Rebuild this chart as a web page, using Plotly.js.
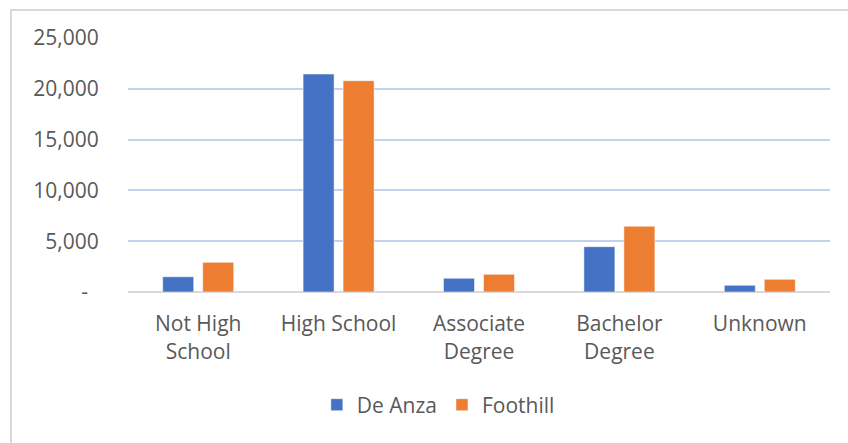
<!DOCTYPE html>
<html>
<head>
<meta charset="utf-8">
<script src="https://cdn.plot.ly/plotly-3.0.1.min.js"></script>
<style>
  html, body { margin: 0; padding: 0; background: #ffffff; overflow: hidden; }
  #frame { position: absolute; left: 10px; top: 9px; width: 900px; height: 500px;
           border-left: 2px solid #d9d9d9; border-top: 2px solid #d9d9d9; }
  #chart { position: absolute; left: 0; top: 0; width: 848px; height: 443px; }
</style>
</head>
<body>
<div id="frame"></div>
<div id="chart"></div>
<script>
const categories = ["Not High<br>School", "High School", "Associate<br>Degree", "Bachelor<br>Degree", "Unknown"];
const deAnza   = [1500, 21450, 1350, 4460, 660];
const foothill = [2920, 20800, 1740, 6470, 1250];
const yTickVals = [0, 5000, 10000, 15000, 20000, 25000];
const yTickText = ["-\u00a0\u00a0", "5,000", "10,000", "15,000", "20,000", "25,000"];

const font = "'Open Sans', 'Noto Sans', sans-serif";
const txtColor = "#595959";
const fs = 21;

const traces = [
  { type: "bar", name: "De Anza", x: categories, y: deAnza,
    marker: { color: "#4472C4", line: { color: "rgba(255,255,255,0.5)", width: 1 } } },
  { type: "bar", name: "Foothill", x: categories, y: foothill,
    marker: { color: "#ED7D31", line: { color: "rgba(255,255,255,0.5)", width: 1 } } }
];

const layout = {
  width: 848, height: 443,
  margin: { l: 128, r: 18, t: 38, b: 151 },
  paper_bgcolor: "rgba(0,0,0,0)",
  plot_bgcolor: "rgba(0,0,0,0)",
  barmode: "group",
  bargap: 0.43,
  bargroupgap: 0.225,
  font: { family: font, size: fs, color: txtColor },
  showlegend: true,
  legend: {
    orientation: "h", x: 0.269, xanchor: "left", y: -0.445, yanchor: "middle",
    font: { family: font, size: fs, color: txtColor },
    itemwidth: 30, traceorder: "normal", bgcolor: "rgba(0,0,0,0)"
  },
  xaxis: {
    type: "category",
    showgrid: false, zeroline: false, showline: false,
    ticks: "outside", ticklen: 13, tickcolor: "rgba(0,0,0,0)",
    tickfont: { family: font, size: fs, color: txtColor },
    fixedrange: true
  },
  yaxis: {
    range: [0, 25000],
    tickvals: yTickVals, ticktext: yTickText,
    showgrid: true, gridcolor: "#c3d2ec", gridwidth: 2,
    zeroline: true, zerolinecolor: "#d9d9d9", zerolinewidth: 2,
    showline: false,
    ticks: "outside", ticklen: 24, tickcolor: "rgba(0,0,0,0)",
    tickfont: { family: font, size: fs, color: txtColor },
    fixedrange: true
  }
};

Plotly.newPlot("chart", traces, layout, { displayModeBar: false, staticPlot: true });
</script>
</body>
</html>
